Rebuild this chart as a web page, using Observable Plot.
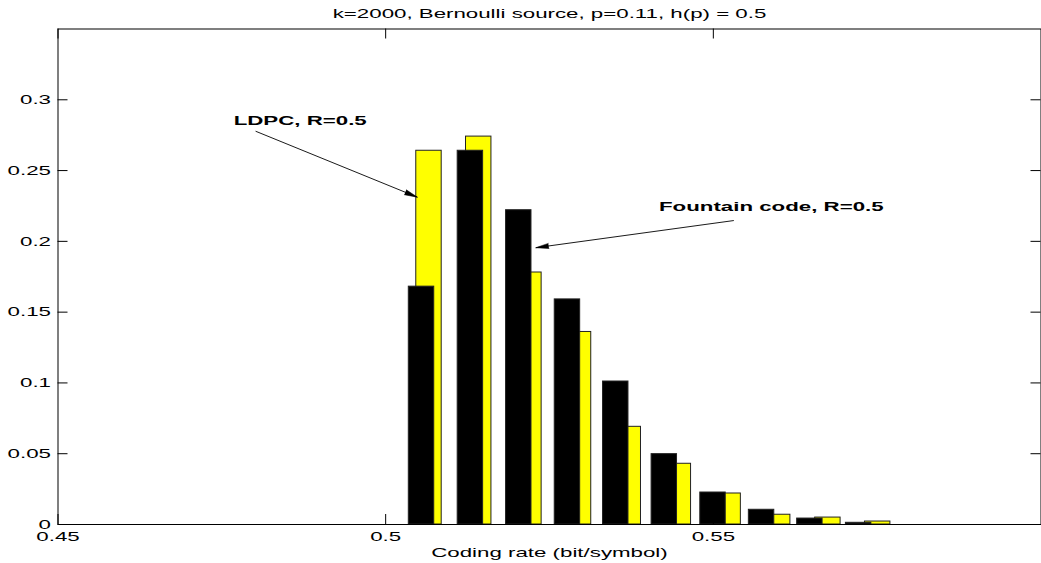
<!DOCTYPE html>
<html>
<head>
<meta charset="utf-8">
<script src="https://cdn.jsdelivr.net/npm/d3@7"></script>
<script src="https://cdn.jsdelivr.net/npm/@observablehq/plot@0.6"></script>
<style>
  html, body { margin: 0; padding: 0; background: #fff; }
  svg { display: block; }
</style>
</head>
<body>
<script>
// ---- data ----
const titleText = "k=2000, Bernoulli source, p=0.11, h(p) = 0.5";
const xLabelText = "Coding rate (bit/symbol)";

// Fountain code (black) histogram: bin centres and probabilities
const fountainRate = [0.50547, 0.51293, 0.52031, 0.52774, 0.53511, 0.54252, 0.54995, 0.55736, 0.56473, 0.57217];
const fountainProb = [0.168, 0.264, 0.222, 0.159, 0.101, 0.0497, 0.0226, 0.0104, 0.0042, 0.0012];

// LDPC (yellow) histogram: bin centres and probabilities
const ldpcRate = [0.50661, 0.51420, 0.52186, 0.52943, 0.53702, 0.54466, 0.55226, 0.55982, 0.56748, 0.57508];
const ldpcProb = [0.264, 0.274, 0.178, 0.136, 0.069, 0.0429, 0.0219, 0.0069, 0.0049, 0.0021];

const xTicks = [0.45, 0.5, 0.55];
const xTickLabels = ["0.45", "0.5", "0.55"];
const yTicks = [0, 0.05, 0.1, 0.15, 0.2, 0.25, 0.3];
const yTickLabels = ["0", "0.05", "0.1", "0.15", "0.2", "0.25", "0.3"];

const annotationText = ["LDPC, R=0.5", "Fountain code, R=0.5"];
const annotationX = [0.4768, 0.5417];
const annotationY = [0.2854, 0.2246];
const arrowFromX = [0.48015, 0.55313];
const arrowFromY = [0.2778, 0.2147];
const arrowToX = [0.50484, 0.5229];
const arrowToY = [0.2312, 0.1955];

// ---- layout ----
const W = 1041, H = 563;
const mL = 57.5, mR = 0.5, mT = 28.5, mB = 39;
const innerW = W - mL - mR, innerH = H - mT - mB;
const xDomain = [0.45, 0.6], yDomain = [0, 0.35];
const binWidth = 0.00388;
const tickLen = 10;
const STRETCH = 1.65;

const fountain = fountainRate.map((x, i) => ({x, p: fountainProb[i]}));
const ldpc = ldpcRate.map((x, i) => ({x, p: ldpcProb[i]}));
const notes = annotationText.map((t, i) => ({t, x: annotationX[i], y: annotationY[i]}));

const xs = d3.scaleLinear(xDomain, [mL, W - mR]);
const ys = d3.scaleLinear(yDomain, [H - mB, mT]);
const arrows = arrowFromX.map((_, i) => {
  const dx = xs(arrowToX[i]) - xs(arrowFromX[i]);
  const dy = ys(arrowToY[i]) - ys(arrowFromY[i]);
  return {x1: arrowFromX[i], y1: arrowFromY[i], x2: arrowToX[i], y2: arrowToY[i],
          angle: Math.atan2(dx, -dy) * 180 / Math.PI};
});

const plot = Plot.plot({
  width: W,
  height: H,
  marginLeft: mL, marginRight: mR, marginTop: mT, marginBottom: mB,
  x: {domain: xDomain, axis: null},
  y: {domain: yDomain, axis: null},
  style: {fontFamily: "'Liberation Sans', Arial, Helvetica, sans-serif", fontSize: "13.5px", background: "#fff", color: "#000"},
  marks: [
    Plot.rect(ldpc, {x1: d => d.x - binWidth / 2, x2: d => d.x + binWidth / 2, y1: 0, y2: "p",
      fill: "#ffff00", stroke: "#222", strokeWidth: 1}),
    Plot.rect(fountain, {x1: d => d.x - binWidth / 2, x2: d => d.x + binWidth / 2, y1: 0, y2: "p",
      fill: "#000", stroke: "#222", strokeWidth: 1}),
    Plot.frame({stroke: "#000", strokeWidth: 1}),
    // inward ticks on all four sides
    Plot.tickY(yTicks, {y: d => d, insetRight: innerW - tickLen, stroke: "#000"}),
    Plot.tickY(yTicks, {y: d => d, insetLeft: innerW - tickLen, stroke: "#000"}),
    Plot.tickX(xTicks, {x: d => d, insetTop: innerH - tickLen, stroke: "#000"}),
    Plot.tickX(xTicks, {x: d => d, insetBottom: innerH - tickLen, stroke: "#000"}),
    // tick labels
    Plot.text(yTicks, {y: d => d, text: (d, i) => yTickLabels[i], frameAnchor: "left", dx: -7,
      textAnchor: "end", lineAnchor: "middle", fill: "#000"}),
    Plot.text(xTicks, {x: d => d, text: (d, i) => xTickLabels[i], frameAnchor: "bottom", dy: 12,
      textAnchor: "middle", lineAnchor: "middle", fill: "#000"}),
    // title and x label
    Plot.text([titleText], {text: d => d, frameAnchor: "top", dy: -15.5, lineAnchor: "middle", fill: "#000"}),
    Plot.text([xLabelText], {text: d => d, frameAnchor: "bottom", dy: 28.5, lineAnchor: "middle", fill: "#000"}),
    // annotations
    Plot.text(notes, {x: "x", y: "y", text: "t", textAnchor: "start", lineAnchor: "middle",
      fontWeight: "bold", fill: "#000"}),
    Plot.link(arrows, {x1: "x1", y1: "y1", x2: "x2", y2: "y2", stroke: "#000", strokeWidth: 0.9}),
    Plot.vector(arrows, {x: "x2", y: "y2", rotate: "angle", length: 13, anchor: "end",
      shape: "spike", r: 2.6, fill: "#000", stroke: "#000", strokeWidth: 0.5})
  ]
});

document.body.appendChild(plot);

// The reference's lettering is horizontally stretched; reproduce that.
plot.querySelectorAll("text").forEach(t => {
  const len = t.getComputedTextLength();
  if (len > 0) {
    t.setAttribute("textLength", (len * STRETCH).toFixed(1));
    t.setAttribute("lengthAdjust", "spacingAndGlyphs");
  }
});
</script>
</body>
</html>
